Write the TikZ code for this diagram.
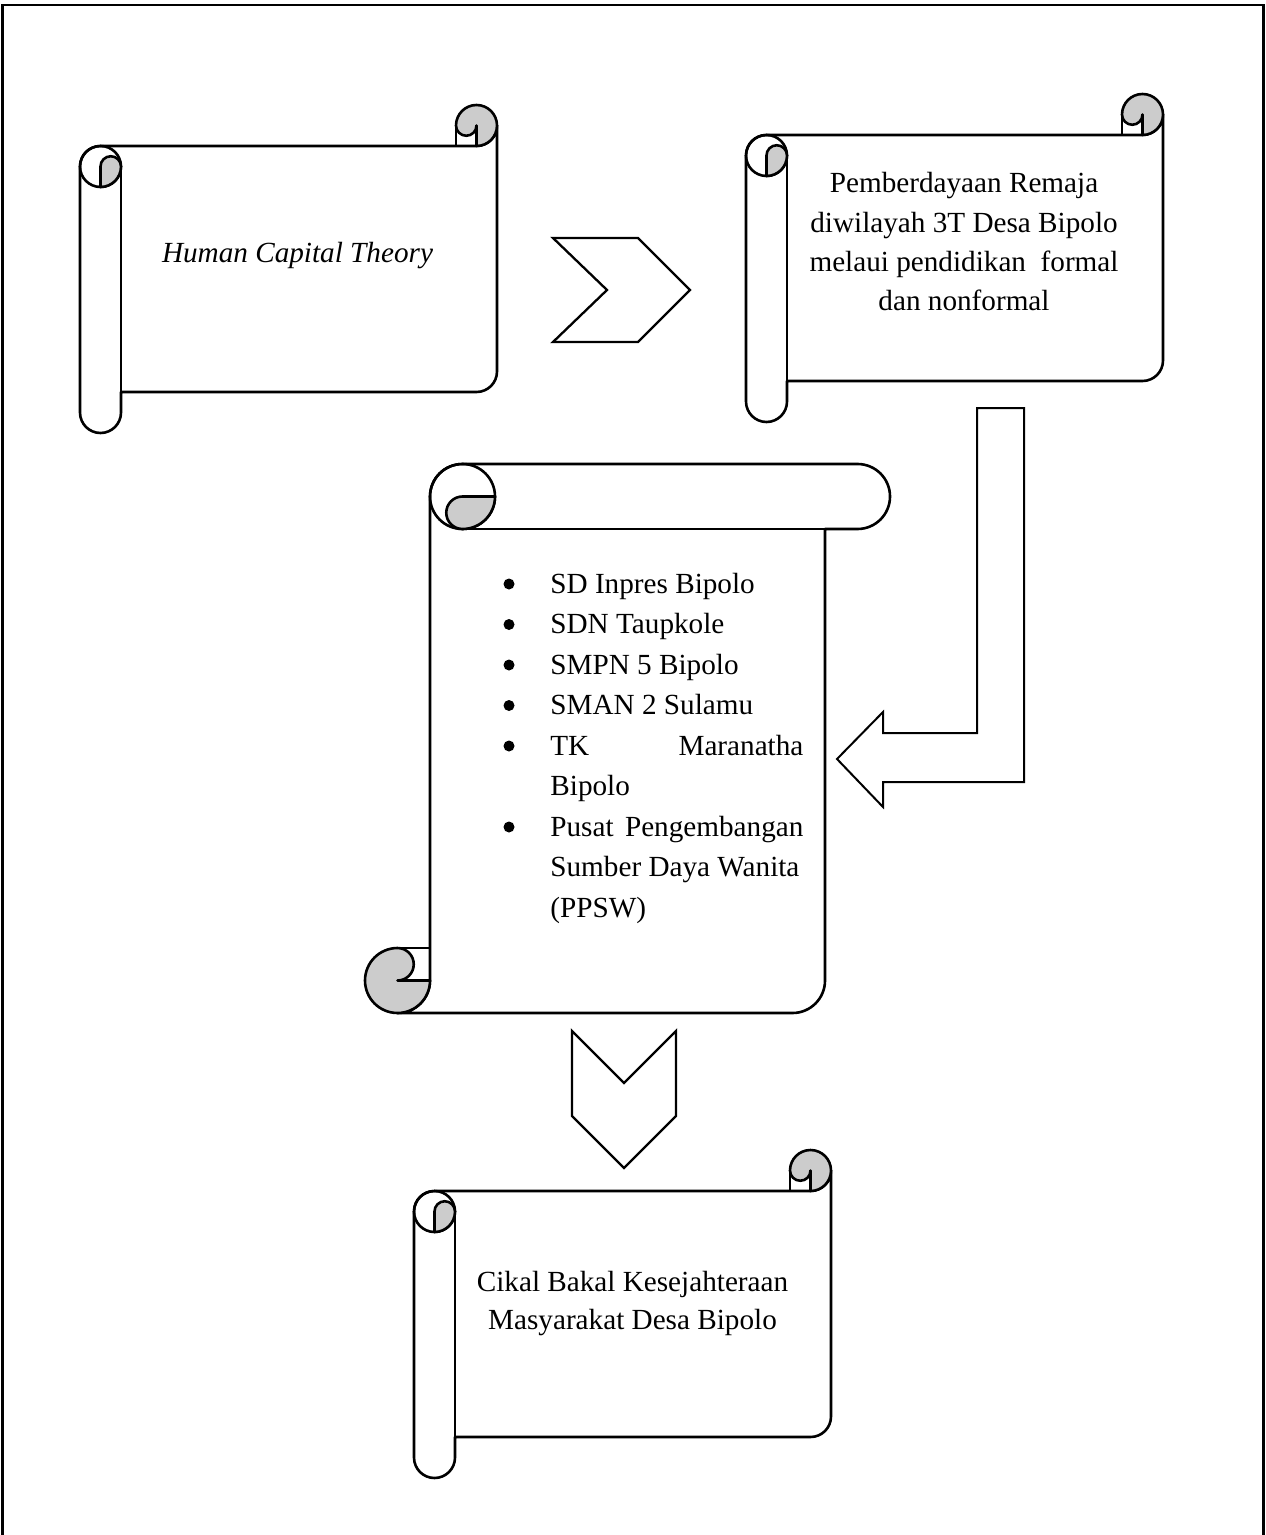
\documentclass[tikz,border=0pt]{standalone}
\usepackage{fontspec}
\setmainfont{Liberation Serif}
\definecolor{rollgray}{RGB}{204,204,204}
\tikzset{
  shp/.style={line width=1.3pt, line join=round},
  roll/.style={shp, fill=rollgray},
  arw/.style={line width=1.15pt, line join=miter},
  txt/.style={inner sep=0pt, anchor=base, font=\fontsize{14.6}{20}\selectfont},
  ltxt/.style={txt, anchor=base west},
}
% horizontal scroll: l t r b ch (screen pixels, y down)
\newcommand\hscroll[5]{%
  \pgfmathsetmacro\SL{#1}\pgfmathsetmacro\ST{#2}\pgfmathsetmacro\SR{#3}\pgfmathsetmacro\SB{#4}%
  \pgfmathsetmacro\SC{#5}\pgfmathsetmacro\SH{#5/2}\pgfmathsetmacro\SQ{#5/4}%
  \draw[shp, fill=white] (\SL,{\ST+\SC+\SH}) arc[start angle=180, end angle=270, radius=\SH]
    -- ({\SR-\SH},{\ST+\SC}) arc[start angle=90, end angle=0, radius=\SH]
    -- (\SR,{\SB-\SC-\SH}) arc[start angle=0, end angle=90, radius=\SH]
    -- ({\SL+\SC},{\SB-\SC}) -- ({\SL+\SC},{\SB-\SH})
    arc[start angle=0, end angle=180, radius=\SH] -- cycle;
  \draw[roll] ({\SR-\SC},{\ST+\SH}) arc[start angle=180, end angle=450, radius=\SH]
    -- ({\SR-\SH},{\ST+\SH}) arc[start angle=0, end angle=180, radius=\SQ] -- cycle;
  \draw[shp] ({\SR-\SC},{\ST+\SH}) -- ({\SR-\SC},{\ST+\SC});
  \draw[shp] ({\SL+\SH},{\ST+\SC+\SH}) circle[radius=\SH];
  \draw[roll] ({\SL+\SH},{\ST+\SC+\SH}) arc[start angle=180, end angle=360, radius=\SQ]
    arc[start angle=0, end angle=90, radius=\SH] -- cycle;
  \draw[shp] ({\SL+\SC},{\ST+\SC+\SH}) -- ({\SL+\SC},{\SB-\SC});
}
\begin{document}
\begin{tikzpicture}[x=0.5pt, y=-0.5pt]
\useasboundingbox (0,0) rectangle (1265,1535);
% outer frame
\draw[line width=1.1pt] (2.5,1535) -- (2.5,5) -- (1263.5,5) -- (1263.5,1535);

% scrolls
\hscroll{80}{105}{497}{433}{41}
\hscroll{746}{94}{1163}{422}{41}
\hscroll{414}{1150}{831}{1478}{41}
\begin{scope}[x={(0,-0.5pt)}, y={(0.5pt,0)}]
  \hscroll{464}{365}{1013}{890}{65}
\end{scope}

% arrows
\draw[arw] (553,238) -- (638,238) -- (690,290) -- (638,342) -- (553,342) -- (607,290) -- cycle;
\draw[arw] (572,1031) -- (624,1083) -- (676,1031) -- (676,1116) -- (624,1168) -- (572,1116) -- cycle;
\draw[line width=1pt, line join=miter] (977,408) -- (1024,408) -- (1024,782) -- (883,782) -- (883,807)
  -- (837,759) -- (883,712) -- (883,733) -- (977,733) -- cycle;

% texts
\node[txt] (hct) at (297.5,263) {\itshape Human Capital Theory};

\node[txt] (p1) at (964,193) {Pemberdayaan Remaja};
\node[txt] (p2) at (964,233) {diwilayah 3T Desa Bipolo};
\node[txt] (p3) at (964,272) {melaui pendidikan~~formal};
\node[txt] (p4) at (964,311) {dan nonformal};

\node[ltxt] (l1) at (550,593) {SD Inpres Bipolo};
\node[ltxt] (l2) at (550,633.5) {SDN Taupkole};
\node[ltxt] (l3) at (550,674) {SMPN 5 Bipolo};
\node[ltxt] (l4) at (550,714.5) {SMAN 2 Sulamu};
\node[ltxt] (l5) at (550,755) {\makebox[126.5pt][s]{TK Maranatha}};
\node[ltxt] (l6) at (550,795.5) {Bipolo};
\node[ltxt] (l7) at (550,836) {\makebox[126.5pt][s]{Pusat Pengembangan}};
\node[ltxt] (l8) at (550,876.5) {Sumber Daya Wanita};
\node[ltxt] (l9) at (550,917) {(PPSW)};
\foreach \yy in {593,633.5,674,714.5,755,836}
  \fill ({509},{\yy-9}) circle[radius=5.5];

\node[txt] (c1) at (632.5,1291) {Cikal Bakal Kesejahteraan};
\node[txt] (c2) at (632.5,1329) {Masyarakat Desa Bipolo};
\end{tikzpicture}
\end{document}
